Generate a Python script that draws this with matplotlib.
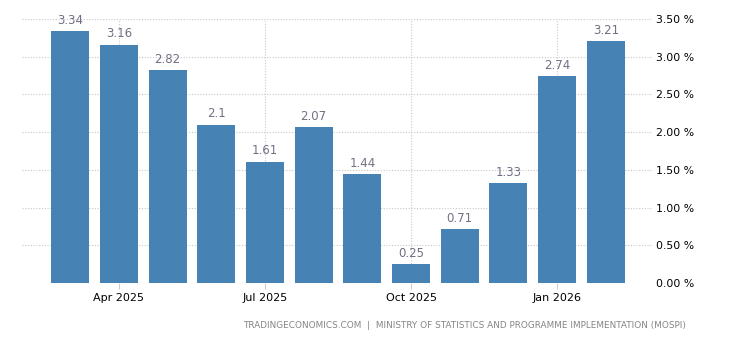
import matplotlib
matplotlib.use("Agg")
import matplotlib.pyplot as plt
from matplotlib.ticker import FixedLocator

months = ["Mar 2025", "Apr 2025", "May 2025", "Jun 2025", "Jul 2025", "Aug 2025",
          "Sep 2025", "Oct 2025", "Nov 2025", "Dec 2025", "Jan 2026", "Feb 2026"]
values = [3.34, 3.16, 2.82, 2.1, 1.61, 2.07, 1.44, 0.25, 0.71, 1.33, 2.74, 3.21]
value_labels = ["3.34", "3.16", "2.82", "2.1", "1.61", "2.07", "1.44", "0.25", "0.71", "1.33", "2.74", "3.21"]
tick_months = ["Apr 2025", "Jul 2025", "Oct 2025", "Jan 2026"]
y_ticks = [0.0, 0.5, 1.0, 1.5, 2.0, 2.5, 3.0, 3.5]
footer = "TRADINGECONOMICS.COM  |  MINISTRY OF STATISTICS AND PROGRAMME IMPLEMENTATION (MOSPI)"

fig = plt.figure(figsize=(7.3, 3.4), dpi=100)
ax = fig.add_axes([22/730, 1-283/340, (653-22)/730, (283-19)/340])

x = list(range(len(months)))
ax.bar(x, values, width=0.78, color="#4682b4", zorder=3)
for xi, v, lab in zip(x, values, value_labels):
    ax.annotate(lab, (xi, v), xytext=(0, 3), textcoords="offset points",
                ha="center", va="bottom", fontsize=8.5, color="#707085", zorder=4)

ax.set_xlim(-0.99, 11.97)
ax.set_ylim(0, 3.5)

tick_pos = [months.index(m) for m in tick_months]
ax.xaxis.set_major_locator(FixedLocator(tick_pos))
ax.set_xticklabels(tick_months)
ax.yaxis.set_major_locator(FixedLocator(y_ticks))
ax.set_yticklabels([f"{t:.2f} %" for t in y_ticks])
ax.yaxis.tick_right()

ax.tick_params(axis="y", length=0, pad=2, labelsize=7.8, labelcolor="#000000")
ax.tick_params(axis="x", length=4, width=0.8, color="#cccccc", pad=3, labelsize=8, labelcolor="#000000")

ax.grid(True, axis="both", color="#c8c8c8", linestyle=(0, (1, 1.5)), linewidth=0.8, zorder=0)
for s in ax.spines.values():
    s.set_visible(False)
ax.set_facecolor("white")

fig.text(686/730, 1-325/340, footer, ha="right", va="center", fontsize=6.4, color="#858585")

fig.savefig("out.png", dpi=100)
